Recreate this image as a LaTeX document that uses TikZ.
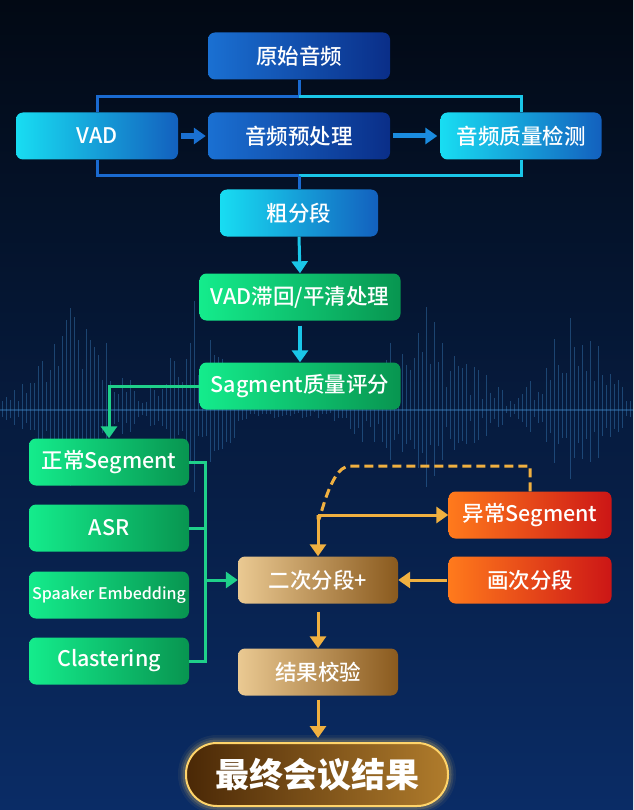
\documentclass[tikz,border=0pt]{standalone}
\usepackage{fontspec}
\setmainfont{Noto Sans CJK SC}[UprightFont={* Medium}]
\usetikzlibrary{arrows.meta}

\definecolor{bgtop}{HTML}{020914}
\definecolor{bgbot}{HTML}{0A2C66}
\definecolor{wavec}{HTML}{3F88C8}
\definecolor{blueL}{HTML}{1A70D2}
\definecolor{blueR}{HTML}{0A2E88}
\definecolor{cyanL}{HTML}{18DDF2}
\definecolor{cyanR}{HTML}{1360BE}
\definecolor{greenL}{HTML}{14EC8C}
\definecolor{greenR}{HTML}{089550}
\definecolor{goldL}{HTML}{EAC992}
\definecolor{goldR}{HTML}{8A5A1E}
\definecolor{redL}{HTML}{FF7A1C}
\definecolor{redR}{HTML}{CC1616}
\definecolor{lineblue}{HTML}{1A6AD0}
\definecolor{linecyan}{HTML}{1AC6E8}
\definecolor{linegreen}{HTML}{1FD08A}
\definecolor{lineorange}{HTML}{F0B040}
\definecolor{pillL}{HTML}{4A2806}
\definecolor{pillM}{HTML}{D6A448}
\definecolor{pillR}{HTML}{B07C2C}
\definecolor{glow}{HTML}{FFD46A}

\tikzset{
  box/.style={rounded corners=7pt, minimum width=182pt, minimum height=47pt, inner sep=2pt,
    text=white, font=\fontsize{21.5}{25}\selectfont},
  bluebox/.style={box, left color=blueL, right color=blueR},
  cyanbox/.style={box, left color=cyanL, right color=cyanR},
  greenbox/.style={box, left color=greenL, right color=greenR},
  goldbox/.style={box, minimum width=160pt, left color=goldL, right color=goldR},
  redbox/.style={box, minimum width=163pt, left color=redL, right color=redR},
  link/.style={line width=3pt},
  tip/.style={-{Triangle[width=16pt,length=12pt]}},
  wave/.style={wavec, line width=1pt, opacity=0.4},
}

\begin{document}
\begin{tikzpicture}[x=1pt,y=1pt,yscale=-1]
\useasboundingbox (0,0) rectangle (633,810);

% background
\shade[top color=bgtop, bottom color=bgbot] (0,0) rectangle (633,810);

% waveform
\pgfmathsetseed{11}
\foreach \i in {0,...,157}{
  \pgfmathsetmacro{\xx}{2+4*\i}
  \pgfmathsetmacro{\env}{12+105*max(0,1-abs(\xx-75)/70)+110*max(0,1-abs(\xx-195)/55)+100*max(0,1-abs(\xx-420)/90)+105*max(0,1-abs(\xx-575)/55)}
  \pgfmathsetmacro{\hh}{\env*(0.25+0.75*rnd)}
  \draw[wave] (\xx,410-\hh) -- (\xx,410+0.75*\hh);
}
\draw[wave, line width=1.5pt] (0,410) -- (633,410);

% nodes
\node[bluebox] (raw) at (299,56) {原始音频};
\node[cyanbox, minimum width=162pt] (vad) at (97,136) {VAD};
\node[bluebox] (pre) at (299,136) {音频预处理};
\node[cyanbox, minimum width=161pt] (qc) at (521,136) {音频质量检测};
\node[cyanbox, minimum width=158pt] (coarse) at (299,213) {粗分段};
\node[greenbox, minimum width=201pt] (smooth) at (300,297) {VAD滞回/平清处理};
\node[greenbox, minimum width=201pt] (score) at (300,386) {Sagment质量评分};

\node[greenbox, minimum width=160pt] (normal) at (109,462) {正常Segment};
\node[greenbox, minimum width=160pt] (asr) at (109,528) {ASR};
\node[greenbox, minimum width=160pt, font=\fontsize{16}{18}\selectfont] (emb) at (109,595) {Spaaker Embedding};
\node[greenbox, minimum width=160pt] (clus) at (109,661) {Clastering};

\node[goldbox] (seg2) at (318,580) {二次分段+};
\node[redbox] (abn) at (530,515) {异常Segment};
\node[redbox] (reseg) at (530,580) {画次分段};
\node[goldbox] (check) at (318,672) {结果校验};

% final result pill with glow
\foreach \w/\o in {16/0.06,11/0.10,7/0.16}{
  \draw[glow, line width=\w pt, opacity=\o, rounded corners=31pt] (186,743) rectangle (448,806);
}
\node[rounded corners=31pt, minimum width=262pt, minimum height=63pt, draw=glow, line width=2pt,
  left color=pillL, middle color=pillM, right color=pillR, text=white,
  font=\fontsize{34}{40}\selectfont\bfseries] (final) at (317,774.5) {最终会议结果};

% top frame
\coordinate (ftop) at (299,97);
\coordinate (fbot) at (299,176);
\draw[link, lineblue] (raw.south) -- (ftop);
\draw[link, lineblue] (vad.north) |- (ftop);
\draw[link, linecyan] (ftop) -| (qc.north);
\draw[link, lineblue] (vad.south) |- (fbot);
\draw[link, linecyan] (fbot) -| (qc.south);
\draw[link, lineblue] (fbot) -- (coarse.north);
\draw[link, tip, color=blueL, line width=6pt, shorten <=3pt, shorten >=2pt] (vad.east) -- (pre.west);
\draw[link, tip, color={rgb,255:red,26;green,140;blue,224}, line width=5pt, shorten <=3pt, shorten >=3pt] (pre.east) -- (qc.west);

% main chain
\draw[link, tip, linecyan] (coarse.south) -- (smooth.north);
\draw[link, tip, linecyan, shorten <=5pt, line width=4pt] (smooth.south) -- (score.north);
\draw[link, tip, linegreen] (score.west) -| (normal.north);

% green bus
\coordinate (gb) at (205,580);
\draw[link, linegreen] (normal.east) -| (gb);
\draw[link, linegreen] (clus.east) -| (gb);
\draw[link, linegreen] (asr.east) -- (asr.east -| gb);
\draw[link, tip, linegreen] (gb) -- (seg2.west);

% orange loop
\coordinate (oj) at (seg2.north |- abn.west);
\coordinate (dtop) at (350,466);
\draw[link, lineorange, dash pattern=on 9pt off 5pt] (abn.north) |- (dtop) to[out=180,in=90] (oj);
\draw[link, tip, lineorange] (oj) -- (abn.west);
\draw[link, tip, lineorange] (oj) -- (seg2.north);
\draw[link, tip, lineorange, shorten <=1pt] (reseg.west) -- (seg2.east);
\draw[link, tip, lineorange, shorten <=8pt] (seg2.south) -- (check.north);
\draw[link, tip, lineorange, shorten <=4pt, shorten >=4pt] (check.south) -- (check.south |- final.north);

\end{tikzpicture}
\end{document}
